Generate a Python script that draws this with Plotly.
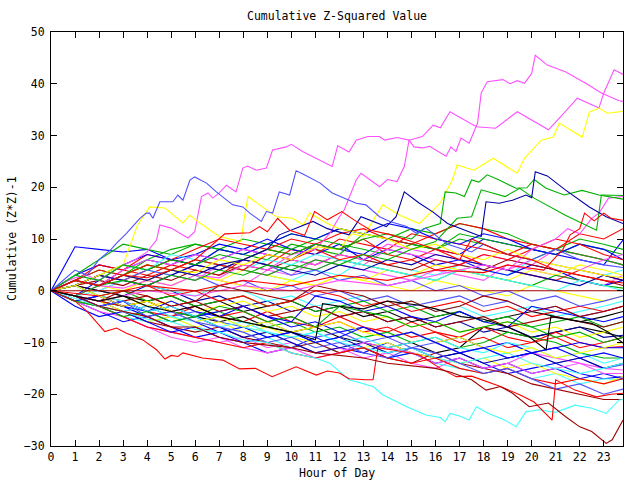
import plotly.graph_objects as go

# ---------------- data ----------------
HOURS = [0, 1, 2, 3, 4, 5, 6, 7, 8, 9, 10, 11, 12, 13, 14, 15, 16, 17, 18, 19, 20, 21, 22, 23, 23.8]
XTICKS = list(range(24))
TITLE = "Cumulative Z-Squared Value"
XLABEL = "Hour of Day"
YLABEL = "Cumulative (Z*Z)-1"

# prominent series, own x-knots
M1_X = [0,0.5,1,1.5,2,2.5,3,3.5,4,4.39,4.53,5.0,5.7,5.98,6.26,6.53,6.73,7.0,7.3,7.7,7.98,8.18,8.54,8.96,9.22,9.79,10.0,10.47,11.3,11.7,11.93,12.4,12.7,13.18,13.67,13.88,14.4,14.9,15.45,15.9,16.2,16.6,17.7,18.5,19.4,20.7,21.2,21.9,22.8,23.0,23.43,23.8]
M1_Y = [0,1.5,2.5,3,2,3.5,5,6,7.5,9.8,12.7,12.1,10.2,11.4,18.2,18.9,17.9,18.9,20.4,19.1,23.7,24.1,23.3,23.7,27.2,27.8,28.3,26.9,24.9,24.0,28.0,26.8,29.1,29.8,29.8,29.1,29.6,29.1,29.8,32,31.5,34.6,31.7,31.4,34.6,31.1,33.6,37.2,35.3,38.2,42.7,41.8]

M2_X = [0,1,2,3,4,5,6,7,8,9,10,11,11.6,12.0,12.2,12.7,12.9,13.67,14.0,14.4,14.7,14.9,15.1,15.45,15.75,16.44,16.64,16.85,17.06,17.4,17.75,17.9,18.15,18.8,19.1,19.4,19.7,20.0,20.15,20.65,21.4,22.25,22.9,23.64,23.8]
M2_Y = [0,-1,1,0.5,2,1,3,2.5,5,4,7,8,11.1,14.3,15.6,21.4,22.7,20.1,21.5,21.1,24,29.1,27.8,27.6,27.9,26.0,27.8,26.9,29.5,28.5,32.4,38.2,40.4,40.8,40.0,40.6,40.1,42.0,45.5,43.6,42.3,40.1,38.2,36.7,36.6]

M3_X = [0,2,4,6,8,10,12,14,16,18,19,20,21,21.5,22,22.5,22.8,23.2,23.8]
M3_Y = [0,-2,0,-1,1,0,2,1,3,5,4,8,10,12,11,14,15,17.9,18.2]

Y1_X = [0,1,2,3,4,5,6,7,8,9,10,11,12,12.5,13,13.8,14.5,15.33,16.2,16.7,16.9,17.6,18.4,19.4,19.7,20.4,20.9,21.15,22.1,22.4,22.8,23.15,23.8]
Y1_Y = [0,2,1,3,2,4,3.5,6,5,7,6,8.5,8,11,10.5,16.6,14.6,13,17,21.4,24.3,23.3,25.6,22.7,25.6,29.1,29.7,32.4,29.7,34.5,35.3,34.3,34.7]

Y2_X = [0,1,2,3,3.6,4.1,4.74,5.49,5.78,6.1,7.0,7.9,8.06,8.2,8.8,9.37,10.05,10.5,10.76,11.5,12,13,14,15,16,17,18,19,20,21,22,23,23.8]
Y2_Y = [0,1,3,5,12.7,16.2,16,13.1,14.6,13.4,10.5,9.5,14.6,18.2,16.2,14.3,14,12.7,15,13,12,11,10,8,9,7,6,8,6,5,4,3,2.5]

G1_X = [0,1,2,3,4,5,6,7,8,9,10,11,12,13,14,15,15.5,16.2,16.4,16.85,17.2,17.5,17.8,18.15,18.65,19.35,19.8,20.1,20.6,21.35,22.1,22.8,23.8]
G1_Y = [0,3,2,5,4,6,5,7,6,8,7,9,8,10,11,10,12,13,19.1,18.9,18.2,21.4,21.0,22.4,21.4,19.8,19.9,21.5,19.8,18.5,19.4,18.5,17.7]

G2_X = [0,1,2,3,4,5,6,7,8,9,10,11,12,13,14,15,16,16.5,16.9,17.5,17.9,18.9,19.5,20.1,21.4,22.7,22.9,23.8]
G2_Y = [0,-1,1,2,1,3,2,4,3,5,4,6,5,7,6,8,9.5,12,14,14.3,19.5,18.2,19.8,17.9,14.6,11.7,18.5,18.4]

DB1_X = [0,1,2,3,4,5,6,7,8,9,9.5,10.9,11.5,12.4,12.9,13.95,14.36,14.7,15.33,15.9,16.5,17.9,18.1,18.65,19.2,19.76,20.0,20.15,20.65,21.4,22.4,23.1,23.8]
DB1_Y = [0,2,1,3,2,4,3,5,6,8,10.8,13.4,12,10.8,14.3,12.4,14.3,19.1,16.9,15.2,13,10.5,17.2,16.9,17.5,18.5,18,23,22.2,19.5,16.2,14.3,13]

LB1_X = [0,0.5,1,1.5,2,2.5,2.73,3.14,3.7,3.97,4.1,4.24,4.53,5.07,5.28,5.49,5.78,5.98,6.47,6.88,7.56,7.98,8.27,8.75,8.96,9.22,9.5,9.93,10.2,10.5,11.2,11.7,12.4,12.7,13.1,13.67,14.1,14.8,15.2,15.6,16.5,17.5,18,19,20,21,22,23,23.8]
LB1_Y = [0,2,4,3,6,8,9.2,11.1,14,15,15,14,17.2,17.2,18.5,17.5,21.4,22,20.8,19.1,16.6,16.2,15,13.4,15.3,15,19.1,18.5,23.2,22.5,20.8,18.9,17.5,16.9,16.6,14.3,13.4,12.4,11.1,12.1,9,7.5,9,7,6,8,6,5,4.5]

R1_X = [0,1,2,3,4,5,6,6.95,7.23,8.27,8.68,9.0,9.43,9.93,10.55,10.97,11.5,12.1,12.7,13.3,14.15,15,16,17,17.5,18,19,20,21,22,23,23.8]
R1_Y = [0,2,1,3,2.5,4,6,9.8,11,11.2,12.4,11.4,14,11.7,10.7,15.3,13.7,15.3,13.4,11.7,10.8,9.5,8,6,10,9,7,6,4,3,2,1.5]

R2_X = [0,2,4,6,8,10,12,14,16,18,19,20.5,21.3,21.6,22.0,22.2,22.6,23.0,23.3,23.8]
R2_Y = [0,-1,1,0,2,1,3,2,4,3.5,5,4,8,10.8,12,15,13.5,15,14,13.6]

C1_X = [0,1,2,3,4,5,6,7,8,9,10,11,11.6,12.4,13.4,13.8,14.8,15.6,16.2,16.4,16.6,17.0,17.4,17.7,18.2,18.9,19.35,19.76,20.3,21.0,21.8,22.5,23.1,23.64,23.8]
C1_Y = [0,-1.5,-3,-4,-5.5,-6,-7.5,-8,-9.5,-10,-12,-13,-14,-17.2,-18.5,-20.1,-22.4,-24,-24.5,-25.3,-23.7,-24.2,-25,-22.4,-23.7,-25,-26.3,-23.4,-23,-23.5,-22.1,-22.7,-23.7,-21.1,-21]

R3_X = [0,1,1.5,2.24,2.73,3.14,3.82,4.39,4.74,5.0,5.28,5.49,6.3,7.15,7.85,8.5,9.2,10.2,11.04,11.5,12.0,12.4,13.1,13.4,13.6,14.3,15.33,16.2,16.86,17.5,18.7,19.5,20.1,20.85,21.0,21.8,22.7,23.3,23.8]
R3_Y = [0,-2,-4,-7.9,-7.2,-8.2,-9.5,-11.4,-13.2,-12.5,-12.7,-12,-13,-13.4,-15.1,-15,-16.6,-14.7,-16.3,-15.5,-15.9,-17,-17.2,-17.2,-11,-11.5,-12.4,-15,-16.6,-16.5,-18.5,-20.1,-21.5,-25,-17.2,-19.2,-20.5,-20,-19.8]

DR1_X = [0,1,2,3,4,5,6,7,8,9,10,11,12,13,14,15,16,16.6,17.5,18.1,18.7,19.2,19.9,20.7,21.4,22.0,22.5,23.1,23.35,23.8]
DR1_Y = [0,-1,-3,-4,-5,-7,-7,-9,-10,-10.5,-11,-12,-12.5,-13,-14,-14.5,-15,-15.7,-17.2,-19.2,-18.5,-19.8,-22.4,-21.7,-24.3,-26.3,-27.2,-29.5,-28.8,-25]

BK1_X = [0,1,2,3,4,5,6,7,8,9,10,11,11.3,12,13,14,15.33,16,17.06,18,19,19.9,20.6,20.8,21.5,22.5,23.2,23.8]
BK1_Y = [0,-1,-2,-1,-3,-4,-3,-5,-6,-7,-8,-9.5,-2.5,-3,-3.5,-2,-2.8,-3.5,-5,-5.5,-7,-8.9,-11.4,-5,-5.5,-6.3,-8,-10.1]

# bulk series on the hourly grid
ZERO = [0,0,0,0,0,0,0,0,0,0,0,0,0,0,0,0,0,0,0,0,0,0,0,0,0]
B01 = [0,3,5,4,6,5,7,6,8,7,6,9,8,7,10,9,8,7,10,9,8,7,6,5,9.8]
B02 = [0,1,3,5,4,6,5,8,7,6,9,8,7,11,10,9,8,11,10,9,8,7,9,8,7]
B03 = [0,2,1,4,3,5,4,3,6,5,8,7,10,9,8,11,10,9,8,7,9,8,7,6,5]
B04 = [0,1,3,2,4,3,2,5,4,3,2,4,3,6,5,4,3,5,4,3,6,5,4,3,4]
B05 = [0,-1,1,3,2,4,3,2,1,4,3,6,5,4,3,2,4,3,2,5,4,3,2,1,3]
B06 = [0,2,1,3,5,4,3,2,4,3,2,1,3,2,1,0,2,1,0,-1,1,0,-1,-2,-1]
B07 = [0,-1,-2,-3,-2,-4,-5,-6,-5,-7,-8,-7,-9,-10,-11,-10,-12,-11,-7,-8,-9,-8,-7,-8,-9]
B08 = [0,1,0,-1,1,0,-2,-1,-3,-2,-4,-3,-5,-4,-6,-5,-7,-6,-8,-7,-9,-8,-7,-9,-8.6]
B09 = [0,-1,-2,-4,-3,-5,-4,-6,-7,-6,-8,-9,-8,-10,-9,-11,-10,-12,-11,-13,-12,-14,-13,-15,-14.3]
B10 = [0,-2,-3,-2,-4,-5,-3,-5,-6,-4,-6,-7,-5,-7,-8,-6,-8,-9,-7,-9,-10,-8,-10,-11,-10.8]
B11 = [0,-1,-2,-3,-2,-4,-5,-4,-6,-7,-6,-8,-7,-9,-8,-10,-9,-11,-10,-8,-9,-10,-12,-13,-13]
B12 = [0,-2,-4,-6,-5,-7,-9,-8,-10,-12,-11,-9,-11,-12,-10,-12,-13,-12,-14,-16,-15,-14,-16,-17,-16.6]
B13 = [0,-2,-4,-5,-7,-8,-9,-10,-9,-11,-10,-12,-11,-13,-12,-14,-15,-13,-15,-14,-12,-13,-14,-15,-15.3]
B14 = [0,-1,-3,-5,-6,-5,-7,-8,-7,-9,-11,-10,-12,-11,-13,-12,-14,-15,-16,-15,-17,-16,-18,-17,-17.2]
B15 = [0,-1,-2,-4,-6,-5,-7,-6,-8,-7,-9,-10,-9,-11,-10,-12,-13,-14,-13,-15,-14,-16,-17,-18,-16.5]
B16 = [0,-2,-3,-4,-6,-7,-8,-7,-9,-10,-11,-10,-12,-11,-13,-14,-12,-14,-15,-16,-18,-19,-20,-21,-21]
B17 = [0,1,3,2,4,6,5,4,6,8,7,9,8,10,7,6,8,7,5,4,3,2,4,3,2]
B18 = [0,2,4,3,6,8,9,8,10,9,11,10,12,11,10,12,11,13,12,11,9,8,10,9,8]
B19 = [0,8.5,8,7.5,8,6,7,9,8,10,8,7,9,6,8,7,5,6,4,3,5,4,2,1,2]
B20 = [0,1,0,2,1,3,2,5,4,3,5,4,6,5,8,7,6,5,7,6,5,8,7,6,5]
B21 = [0,-1,0,2,1,0,-1,1,0,-2,-1,-3,-2,-1,-3,-2,-4,-3,-5,-4,-3,-5,-4,-3,-2]
B22 = [0,1,2,1,3,2,4,3,5,4,6,5,7,6,5,4,6,5,4,6,5,4,3,2,1]
B23 = [0,-1,-2,-1,-3,-2,-4,-3,-2,-4,-3,-5,-4,-6,-5,-7,-6,-8,-7,-6,-8,-7,-9,-8,-7]
B24 = [0,1,0,-1,-2,-1,-3,-2,-4,-3,-2,-4,-3,-5,-4,-6,-5,-4,-6,-5,-4,-5,-6,-5,-4]
B25 = [0,-1,-3,-2,-4,-6,-5,-7,-9,-8,-10,-12,-11,-10,-12,-11,-13,-12,-14,-13,-12,-14,-13,-15,-14]
B26 = [0,2,1,3,2,4,3,1,2,0,1,-1,0,-2,-1,-3,-2,-1,-3,-2,-4,-3,-5,-4,-3]
B27 = [0,-1,-2,-3,-2,-4,-3,-5,-4,-6,-5,-7,-6,-8,-7,-9,-8,-10,-9,-11,-10,-9,-11,-10,-9]
B28 = [0,1,-1,0,-2,-1,-3,-2,-1,-3,-2,-4,-3,-2,-4,-3,-5,-4,-6,-5,-7,-6,-5,-7,-6]
B29 = [0,-2,-1,-3,-5,-4,-6,-8,-7,-9,-8,-10,-9,-11,-13,-12,-14,-13,-15,-14,-16,-15,-17,-16,-17]
B30 = [0,-1,-3,-5,-7,-9,-10,-9,-11,-12,-11,-13,-12,-10,-11,-12,-14,-13,-15,-14,-16,-15,-14,-16,-16]
B31 = [0,-2,-3,-4,-3,-5,-6,-5,-7,-8,-9,-8,-10,-11,-12,-11,-13,-14,-13,-12,-14,-15,-16,-15,-14]
B32 = [0,2,1,0,2,1,3,2,1,0,2,1,3,2,4,3,5,4,3,2,4,3,5,4,3]
B33 = [0,2,1,3,5,4,6,5,4,3,5,4,6,5,4,3,2,4,3,2,1,3,2,1,0.5]
B34 = [0,1,3,2,1,-1,0,-2,-1,-3,-2,0,-1,-3,-2,-4,-3,-2,-4,-3,-5,-4,-3,-4,-3]
B35 = [0,-1,-3,-2,-4,-3,-5,-4,-3,-5,-7,-6,-8,-7,-9,-8,-10,-9,-11,-10,-12,-11,-10,-11,-11]
B36 = [0,1,-1,-2,-1,-3,-2,-4,-3,-5,-4,-3,-5,-4,-6,-5,-7,-6,-5,-7,-6,-5,-6,-7,-6]
B37 = [0,1,3,2,4,3,5,4,6,5,3,4,2,3,1,2,0,1,-1,0,-2,-1,-3,-2,-1]
B38 = [0,-1,-3,-5,-7,-8,-9,-10,-11,-10,-12,-13,-12,-11,-13,-14,-13,-15,-16,-15,-17,-18,-17,-18,-17]
B39 = [0,-2,-1,-3,-4,-2,-4,-5,-3,-5,-6,-1,-2,-4,-3,-5,-6,-4,-6,-7,-3,-4,-5,-6,-5]
B40 = [0,1,-1,-2,-4,-3,-5,-7,-6,-8,-9,-8,-10,-9,-11,-10,-9,-11,-12,-10,-11,-13,-12,-14,-13]
B41 = [0,3,6,9,8,7,9,8,7,9,8,10,9,8,7,9,8,10,9,7,6,8,7,6,5]
B42 = [0,2,5,4,7,6,8,10,9,8,10,9,11,12,10,9,11,13,12,10,9,8,11,10,12]
B43 = [0,-1,2,5,7,6,5,8,7,9,11,10,12,11,13,12,10,9,11,10,8,7,9,8,6]
B44 = [0,2,1,4,6,5,7,6,8,7,6,5,7,6,9,8,7,6,5,4,6,5,4,6,7]
B45 = [0,3,2,5,4,7,6,5,4,6,5,7,6,5,4,3,2,4,3,2,1,0,2,1,0]
B46 = [0,-1,-2,0,-1,-3,-2,1,0,-1,-2,1,0,-1,-3,-2,-4,-3,-1,-2,-4,-3,-5,-4,-3]
B47 = [0,1,-1,-3,-2,-4,-6,-5,-7,-6,-8,-7,-6,-8,-9,-8,-10,-9,-11,-12,-11,-13,-12,-11,-10]
B48 = [0,-2,-3,-5,-4,-6,-5,-3,-4,-6,-5,-7,-3,-4,-5,-7,-6,-8,-7,-6,-7,-9,-8,-10,-9]
B49 = [0,-3,-5,-4,-6,-8,-7,-9,-10,-9,-8,-10,-9,-7,-9,-8,-10,-12,-11,-13,-12,-11,-13,-12,-13]
B50 = [0,-1,-3,-2,-5,-4,-6,-7,-8,-10,-9,-11,-10,-12,-13,-11,-12,-14,-16,-15,-17,-19,-18,-20,-19]
B51 = [0,2,4,3,5,4,6,5,4,7,6,8,6,7,5,6,4,5,7,6,8,10,9,7,6]
B52 = [0,1,3,2,1,3,5,4,6,5,4,3,5,4,6,5,7,6,5,4,3,2,1,3,2]

# ---------------- styles ----------------
RED = "#ff0000"; GREEN = "#00b000"; BLUE = "#0000ff"; LBLUE = "#5050ff"
MAG = "#ff50ff"; CYAN = "#40ffff"; YEL = "#ffff00"; BLK = "#000000"
DRED = "#a00000"; DBLUE = "#0000a0"

bulk = [
    (B01, BLUE), (B02, GREEN), (B03, RED), (B04, CYAN), (B05, MAG),
    (B06, YEL), (B07, BLK), (B08, DBLUE), (B09, LBLUE), (B10, RED),
    (B11, GREEN), (B12, BLUE), (B13, MAG), (B14, CYAN), (B15, YEL),
    (B16, DRED), (B17, RED), (B18, GREEN), (B19, BLUE), (B20, MAG),
    (B21, CYAN), (B22, DRED), (B23, YEL), (B24, BLK), (B25, DBLUE),
    (B26, LBLUE), (B27, RED), (B28, GREEN), (B29, BLUE), (B30, MAG),
    (B31, CYAN), (B32, YEL), (B33, GREEN), (B34, RED), (B35, BLUE),
    (B36, DRED), (B37, LBLUE), (B38, RED), (B39, BLUE), (B40, CYAN),
    (B41, GREEN), (B42, RED), (B43, BLUE), (B44, MAG), (B45, CYAN),
    (B46, DRED), (B47, YEL), (B48, GREEN), (B49, BLUE), (B50, LBLUE),
    (B51, RED), (B52, DBLUE),
]
special = [
    (M1_X, M1_Y, MAG), (M2_X, M2_Y, MAG), (M3_X, M3_Y, MAG),
    (Y1_X, Y1_Y, YEL), (Y2_X, Y2_Y, YEL),
    (G1_X, G1_Y, GREEN), (G2_X, G2_Y, GREEN),
    (DB1_X, DB1_Y, DBLUE), (LB1_X, LB1_Y, LBLUE),
    (R1_X, R1_Y, RED), (R2_X, R2_Y, RED), (C1_X, C1_Y, CYAN),
    (R3_X, R3_Y, RED), (DR1_X, DR1_Y, DRED), (BK1_X, BK1_Y, BLK),
]

LW = 1.1
fig = go.Figure()
for ys, col in bulk:
    fig.add_trace(go.Scatter(x=HOURS, y=ys, mode="lines",
                             line=dict(color=col, width=LW), hoverinfo="skip"))
for xs, ys, col in special:
    fig.add_trace(go.Scatter(x=xs, y=ys, mode="lines",
                             line=dict(color=col, width=LW), hoverinfo="skip"))
fig.add_trace(go.Scatter(x=HOURS, y=ZERO, mode="lines",
                         line=dict(color=DRED, width=LW), hoverinfo="skip"))

FONT = "DejaVu Sans Mono, monospace"
axis_common = dict(
    ticks="inside", ticklen=6, tickwidth=1, tickcolor="black",
    showline=True, linecolor="black", linewidth=1, mirror="allticks",
    showgrid=False, zeroline=False,
    tickfont=dict(family=FONT, size=11.5, color="black"),
)
fig.update_xaxes(range=[0, 23.8], tickmode="array", tickvals=XTICKS,
                 ticklabelstandoff=0, **axis_common)
fig.update_yaxes(range=[-30, 50], tickmode="linear", tick0=-30, dtick=10,
                 ticklabelstandoff=3, **axis_common)

fig.update_layout(
    width=640, height=480,
    margin=dict(l=51, r=17, t=32, b=34),
    paper_bgcolor="white", plot_bgcolor="white",
    showlegend=False,
    font=dict(family=FONT, size=11.5, color="black"),
    annotations=[
        dict(text=TITLE, xref="paper", yref="paper", x=0.5, y=1, yshift=16,
             xanchor="center", yanchor="middle", showarrow=False,
             font=dict(family=FONT, size=11.5)),
        dict(text=XLABEL, xref="paper", yref="paper", x=0.5, y=0, yshift=-27,
             xanchor="center", yanchor="middle", showarrow=False,
             font=dict(family=FONT, size=11.5)),
        dict(text=YLABEL, xref="paper", yref="paper", x=0, y=0.5, xshift=-39,
             xanchor="center", yanchor="middle", textangle=-90, showarrow=False,
             font=dict(family=FONT, size=11.5)),
    ],
)

fig.write_html("out.html")
